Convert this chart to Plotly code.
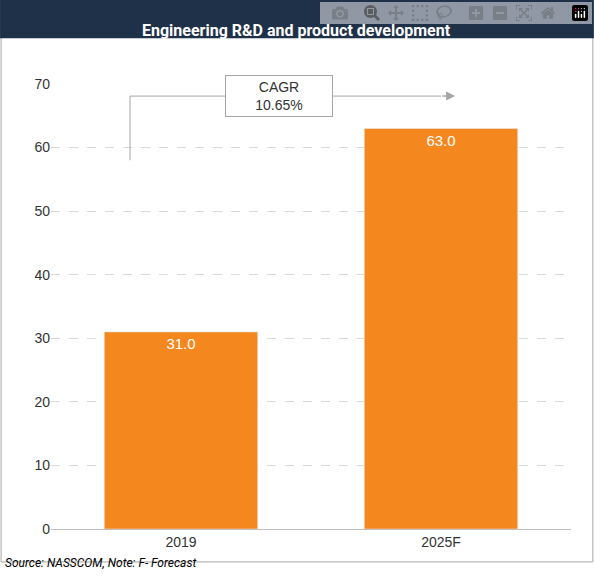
import plotly.graph_objects as go

categories = ["2019", "2025F"]
values = [31.0, 63.0]
title = "Engineering R&D and product development"
source = "Source: NASSCOM, Note: F- Forecast"

fig = go.Figure(go.Bar(
    x=[0, 1], y=values, marker_color="#F5871F",
    text=[f"{v:.1f}" for v in values], textposition="inside",
    insidetextanchor="end", textfont=dict(color="white", size=15, family="Arial"),
    hoverinfo="skip"))

fig.update_layout(
    width=594, height=581, margin=dict(l=51, r=23, t=84, b=52),
    paper_bgcolor="white", plot_bgcolor="white", bargap=0.41, showlegend=False,
    font=dict(family="Arial, Liberation Sans", color="#333", size=14),
    xaxis=dict(tickmode="array", tickvals=[0, 1], ticktext=categories, range=[-0.5, 1.5],
               showline=True, linecolor="#bfbfbf", ticks="", showgrid=False),
    yaxis=dict(range=[0, 70], dtick=10, showline=False, gridcolor="#d9d9d9",
               griddash="dash", zeroline=False, ticks=""),
)
fig.add_shape(type="rect", xref="paper", yref="paper", x0=-0.096, x1=1.042, y0=-0.074, y1=1.187,
              line=dict(color="#a6a6a6", width=1), layer="below")
fig.add_shape(type="rect", xref="paper", yref="paper", x0=-0.098, x1=1.044, y0=1.103, y1=1.19,
              fillcolor="#1f3049", line_width=0)
fig.add_annotation(xref="paper", yref="paper", x=0.473, y=1.146, text=f"<b>{title}</b>",
                   showarrow=False, font=dict(color="white", size=16, family="Roboto"))
fig.add_annotation(xref="paper", yref="paper", x=-0.092, y=-0.096, xanchor="left", text=f"<i>{source}</i>",
                   showarrow=False, font=dict(size=12, color="#000", family="Roboto"))
# CAGR arrow
fig.add_shape(type="path", path="M -0.196 58 L -0.196 68.1 L 1.0 68.1", line=dict(color="#a6a6a6", width=1))
fig.add_annotation(x=1.054, y=68.1, ax=1.0, ay=68.1, axref="x", ayref="y", text="",
                   showarrow=True, arrowhead=2, arrowsize=1.2, arrowwidth=1.5, arrowcolor="#a6a6a6")
fig.add_annotation(x=0.377, y=68.1, text="CAGR<br>10.65%", showarrow=False, bgcolor="white",
                   bordercolor="#a6a6a6", borderwidth=1, borderpad=3, width=100,
                   font=dict(size=14, color="#333"))
fig.write_html("out.html", post_script="document.body.style.margin='0';")
